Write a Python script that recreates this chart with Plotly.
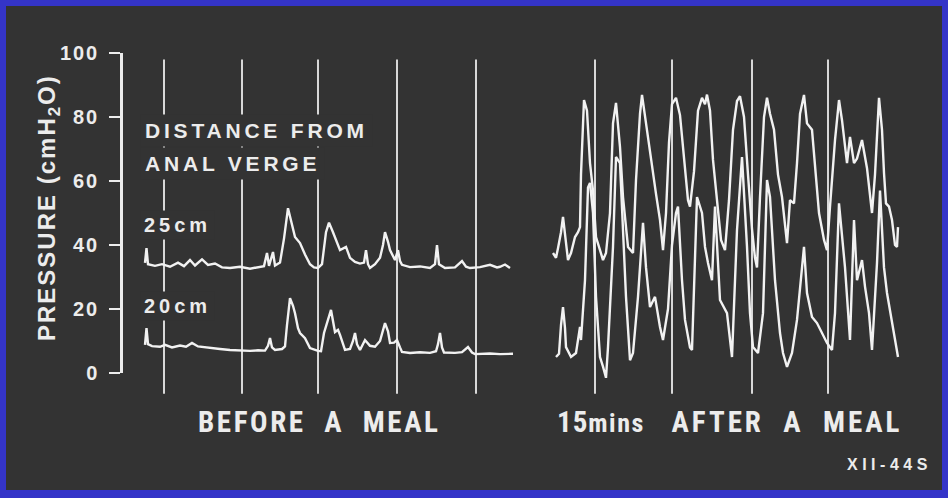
import plotly.graph_objects as go

# ---------------- data (time in arbitrary units, pressure in cmH2O) ----------------
Y_TICKS = [0, 20, 40, 60, 80, 100]
Y_TICK_LABELS = ["0", "20", "40", "60", "80", "100"]

# time markers drawn as vertical lines
MARKS_BEFORE = [41, 119, 195, 274, 353]
MARKS_AFTER = [472, 549, 629, 705]

# before a meal, 25 cm from anal verge
BEFORE_25 = [
    (22, 34.4), (23.5, 39), (25, 34), (32, 33.5), (39, 34), (47, 33.2), (55, 34.5), (61, 33.4),
    (67, 35.3), (72, 33.6), (79, 35.5), (85, 33.8), (92, 34.2), (99, 33.0), (107, 32.8), (117, 33.2),
    (127, 32.6), (135, 33.0), (141, 33.4), (144, 37.5), (146, 33.5), (150, 37.8), (152, 33.6),
    (157, 34.5), (161, 42), (165, 51.5), (168, 48), (172, 42.5), (177, 40.6), (182, 37), (187, 34),
    (191, 33), (195, 32.8), (199, 34), (203, 44), (206, 47), (210, 44), (214, 41), (217, 38.4),
    (223, 39.4), (227, 36), (232, 34.7), (237, 34.2), (241, 34.5), (243, 38.4), (245, 34),
    (247, 32.8), (252, 34), (257, 36), (260, 40), (262, 44), (265, 41), (267, 38.4), (272, 35.3),
    (275, 38.4), (277, 35), (279, 33.8), (287, 33.1), (297, 33.3), (307, 32.8), (312, 34),
    (314, 40), (316, 34), (322, 32.8), (332, 33), (339, 35), (343, 33.2), (347, 32.8), (357, 33.1),
    (367, 33.8), (374, 33.0), (377, 33.2), (382, 33.9), (387, 32.8),
]

# before a meal, 20 cm from anal verge
BEFORE_20 = [
    (22, 8.8), (23.5, 14), (25, 9), (29, 8.4), (37, 8.2), (42, 8.8), (49, 8.0), (57, 8.6), (63, 8.2),
    (69, 9.4), (75, 8.3), (82, 8.0), (87, 7.8), (97, 7.5), (107, 7.2), (117, 7.0), (127, 6.9),
    (135, 7.1), (142, 7.0), (145, 8.5), (147, 10.9), (149, 8), (152, 7.2), (159, 7.5), (162, 8.3),
    (164, 15), (167, 23.4), (170, 21), (172, 18.7), (175, 14), (177, 12.5), (182, 10.9), (187, 7.8),
    (195, 6.9), (198, 6.8), (201, 12.5), (205, 17), (208, 19.7), (212, 12.8), (215, 13.5),
    (217, 11.9), (222, 7.2), (227, 7.5), (230, 10), (232, 12.5), (234, 9), (237, 7.2), (240, 9),
    (242, 10.3), (247, 8.5), (252, 8.2), (257, 10), (262, 15.6), (265, 13), (267, 9.4), (271, 9.5),
    (274, 10.3), (277, 8), (279, 6.6), (287, 6.25), (297, 6.5), (307, 6.3), (313, 6.8), (315, 9),
    (317, 12.5), (319, 8), (321, 6.4), (332, 6.3), (339, 6.5), (345, 8.1), (349, 6.4), (352, 5.9),
    (367, 6.1), (377, 5.9), (390, 6.0),
]

# 15 mins after a meal, 25 cm from anal verge (upper trace)
AFTER_25 = [
    (430, 37.5), (433, 36), (435, 39), (438, 44), (440, 48.8), (442, 44), (443, 41.6), (445, 35.3),
    (448, 37.5), (452, 42.5), (455, 44), (457, 45.6), (458, 62), (460, 78), (461, 85.3), (464, 82),
    (467, 65.6), (470, 57), (473, 42.5), (477, 38.4), (480, 35.3), (483, 37.5), (487, 50), (490, 78),
    (493, 84.4), (497, 70.6), (500, 55), (505, 39.4), (510, 37.5), (513, 60.3), (517, 81),
    (519, 86.9), (523, 78), (528, 65.6), (533, 56), (537, 47.8), (540, 38.4), (543, 50), (546, 72),
    (549, 84), (553, 86), (557, 80.6), (561, 66.6), (565, 54), (567, 52), (571, 63), (575, 82),
    (579, 86), (582, 84), (584, 87), (587, 82), (590, 66.6), (594, 54), (598, 41.6), (602, 38.4),
    (606, 54), (610, 76), (614, 85), (617, 86.5), (621, 80), (625, 62), (629, 45), (632, 36),
    (634, 33), (637, 55), (641, 80), (644, 86), (647, 81), (651, 76), (655, 62), (659, 55),
    (664, 40.6), (667, 54), (671, 53), (674, 65.6), (677, 81), (681, 86.9), (684, 78), (689, 76),
    (692, 65.6), (696, 50), (701, 41.6), (704, 38.4), (707, 52), (712, 72.8), (716, 85.3), (719, 79),
    (724, 65.6), (727, 73.8), (731, 65.6), (734, 67), (739, 72.8), (744, 64), (749, 50), (752, 62),
    (756, 86), (759, 76), (761, 62.5), (763, 53), (766, 52), (769, 47.8), (772, 40), (774, 39.4),
    (775, 45.6),
]

# 15 mins after a meal, 20 cm from anal verge (lower trace)
AFTER_20 = [
    (433, 5), (436, 6), (438, 15), (440, 20.6), (442, 14), (443, 8.1), (448, 5), (453, 6.25),
    (457, 14.4), (458, 10.3), (462, 29), (465, 58), (467, 59.4), (470, 50), (473, 23.8), (477, 5),
    (480, 2), (483, -1.5), (485, 8.1), (490, 39.4), (493, 67.5), (497, 65.6), (500, 44.7),
    (503, 23.8), (507, 4), (510, 6.25), (515, 23.8), (520, 46.9), (523, 33), (527, 20.6),
    (532, 23.8), (537, 14.4), (540, 10.3), (545, 20), (549, 40), (553, 50), (555, 52), (559, 29),
    (562, 16.6), (567, 8), (569, 7.2), (574, 55), (579, 50), (582, 39.4), (585, 34.4), (589, 29),
    (592, 52), (597, 22.8), (604, 18.7), (609, 5), (614, 44.7), (619, 67.5), (624, 39.4),
    (627, 18.7), (630, 8.1), (635, 6.25), (640, 18.7), (644, 60.3), (647, 55), (652, 29),
    (657, 12.5), (660, 6.25), (664, 1.9), (669, 6.25), (674, 16.6), (677, 27), (681, 39.4),
    (684, 25), (689, 17.5), (694, 15.6), (699, 12.5), (704, 9.4), (709, 7.2), (712, 18.7),
    (716, 53), (719, 41.6), (722, 33), (727, 10.3), (731, 47.8), (734, 29), (739, 35.3), (742, 27),
    (746, 18.7), (749, 7.2), (754, 34.4), (757, 57), (761, 33), (764, 25), (767, 19.7),
    (771, 12.5), (775, 5),
]

# ---------------- styling / layout ----------------
W, H = 948, 498
BLUE = "#3434c8"
DARK = "#333333"
INK = "#ececec"
TRACE = "#f2f2f2"
FONT = "Liberation Sans, Arial, sans-serif"
NARROW = "Liberation Sans Narrow, Arial Narrow, Roboto Condensed, DejaVu Sans Condensed, Liberation Sans, sans-serif"

# plot frame in pixels
AX_X0, AX_X1 = 123, 942          # x-axis domain (px)
AX_Y100, AX_Y0 = 53, 373         # pixel rows of 100 and 0 cmH2O
DATA_TOP, DATA_BOT = 30, 400     # wider clip area for the traces (px)
PX_PER_UNIT = (AX_Y0 - AX_Y100) / 100.0
MARK_TOP, MARK_BOT = 98, -6.5


def px_x(x):
    return x / W


def px_y(y):
    return 1 - y / H


def spaced(text, ls):
    return f"<span style='letter-spacing:{ls}px'>{text}</span>"


fig = go.Figure()

for series in (BEFORE_25, BEFORE_20, AFTER_25, AFTER_20):
    t, p = zip(*series)
    fig.add_trace(go.Scatter(
        x=list(t), y=list(p), mode="lines", xaxis="x", yaxis="y2",
        line=dict(color=TRACE, width=2.4), hoverinfo="skip", showlegend=False,
    ))

# invisible trace that attaches the visible pressure axis
fig.add_trace(go.Scatter(x=[0], y=[0], xaxis="x", yaxis="y", mode="markers",
                         marker=dict(opacity=0), hoverinfo="skip", showlegend=False))

shapes = [dict(type="rect", xref="paper", yref="paper", x0=px_x(6), x1=px_x(942),
               y0=px_y(490), y1=px_y(6), fillcolor=DARK, line=dict(width=0), layer="below")]
for m in MARKS_BEFORE + MARKS_AFTER:
    shapes.append(dict(type="line", xref="x", yref="y2", x0=m, x1=m, y0=MARK_BOT, y1=MARK_TOP,
                       line=dict(color="#d8d8d8", width=2), layer="below"))

annotations = [
    dict(text="<b>" + spaced("PRESSURE (cmH<sub>2</sub>O)", 2) + "</b>", textangle=-90,
         x=px_x(48), y=px_y(208), font=dict(family=FONT, size=24, color=INK)),
    dict(text="<b>" + spaced("DISTANCE FROM", 3.8) + "</b>", x=px_x(140), y=px_y(130),
         xanchor="left", font=dict(family=FONT, size=21, color=INK), bgcolor=DARK, borderpad=4),
    dict(text="<b>" + spaced("ANAL VERGE", 3.8) + "</b>", x=px_x(140), y=px_y(163),
         xanchor="left", font=dict(family=FONT, size=21, color=INK), bgcolor=DARK, borderpad=4),
    dict(text="<b>" + spaced("25cm", 4) + "</b>", x=px_x(140), y=px_y(225),
         xanchor="left", font=dict(family=FONT, size=20, color=INK), bgcolor=DARK, borderpad=3),
    dict(text="<b>" + spaced("20cm", 4) + "</b>", x=px_x(140), y=px_y(306),
         xanchor="left", font=dict(family=FONT, size=20, color=INK), bgcolor=DARK, borderpad=3),
    dict(text="<b>" + spaced("BEFORE  A  MEAL", 2.6) + "</b>", x=px_x(319), y=px_y(422),
         font=dict(family=NARROW, size=29, color=INK)),
    dict(text="<b>" + spaced("15", 1) + spaced("<span style='font-size:26px'>mins</span>", 1.5)
         + "    " + spaced("AFTER  A  MEAL", 3) + "</b>", x=px_x(729), y=px_y(422),
         font=dict(family=NARROW, size=29, color=INK)),
    dict(text="<b>" + spaced("XII-44S", 4.5) + "</b>", x=px_x(889), y=px_y(464),
         font=dict(family=FONT, size=16, color=INK)),
]
for a in annotations:
    a.update(xref="paper", yref="paper", showarrow=False)
    a.setdefault("xanchor", "center")
    a.setdefault("yanchor", "middle")

y2_low = -(DATA_BOT - AX_Y0) / PX_PER_UNIT
y2_high = 100 + (AX_Y100 - DATA_TOP) / PX_PER_UNIT

fig.update_layout(
    template="none",
    width=W, height=H, autosize=False,
    margin=dict(l=0, r=0, t=0, b=0, pad=0),
    paper_bgcolor=BLUE, plot_bgcolor="rgba(0,0,0,0)",
    showlegend=False,
    xaxis=dict(domain=[px_x(AX_X0), px_x(AX_X1)], range=[0, AX_X1 - AX_X0], visible=False,
               anchor="y", fixedrange=True),
    yaxis=dict(domain=[px_y(AX_Y0), px_y(AX_Y100)], range=[0, 100], anchor="x",
               showline=True, linecolor=INK, linewidth=2.5, ticks="outside", ticklen=11,
               tickwidth=2, tickcolor=INK, tickvals=Y_TICKS,
               ticktext=["<b>" + spaced(s, 2) + "</b>" for s in Y_TICK_LABELS],
               tickfont=dict(family=FONT, size=20, color=INK), ticklabelstandoff=6,
               showgrid=False, zeroline=False, fixedrange=True),
    yaxis2=dict(domain=[px_y(DATA_BOT), px_y(DATA_TOP)], range=[y2_low, y2_high], anchor="x",
                visible=False, fixedrange=True),
    shapes=shapes, annotations=annotations,
)

fig.write_html("out.html", config={"displayModeBar": False},
               post_script="document.body.style.margin='0';document.body.style.overflow='hidden';")
